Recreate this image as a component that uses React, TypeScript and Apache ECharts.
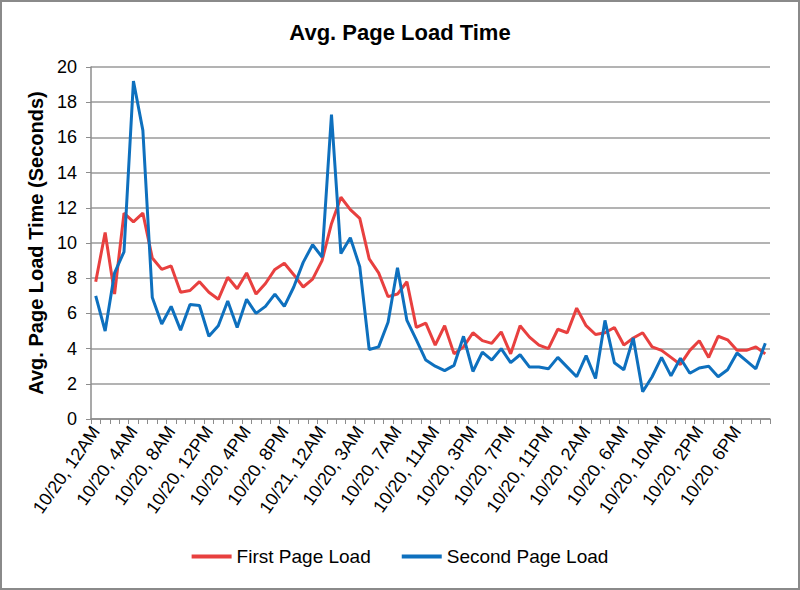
import React, { useEffect, useRef } from "react";
import * as echarts from "echarts";

const tickLabels = [
  "10/20, 12AM", "10/20, 4AM", "10/20, 8AM", "10/20, 12PM", "10/20, 4PM", "10/20, 8PM",
  "10/21, 12AM", "10/20, 3AM", "10/20, 7AM", "10/20, 11AM", "10/20, 3PM", "10/20, 7PM",
  "10/20, 11PM", "10/20, 2AM", "10/20, 6AM", "10/20, 10AM", "10/20, 2PM", "10/20, 6PM",
];

const firstPageLoad = [
  7.8, 10.6, 7.1, 11.7, 11.2, 11.7, 9.15, 8.5, 8.7, 7.2, 7.3, 7.8,
  7.2, 6.8, 8.05, 7.4, 8.3, 7.1, 7.7, 8.5, 8.85, 8.2, 7.5, 7.95,
  9.0, 11.1, 12.6, 11.9, 11.4, 9.1, 8.3, 6.95, 7.1, 7.8, 5.2, 5.45,
  4.2, 5.3, 3.7, 4.1, 4.9, 4.45, 4.3, 4.95, 3.7, 5.3, 4.65, 4.2,
  4.0, 5.1, 4.9, 6.3, 5.3, 4.8, 4.9, 5.2, 4.2, 4.6, 4.9, 4.1,
  3.9, 3.5, 3.1, 3.9, 4.45, 3.5, 4.7, 4.5, 3.9, 3.9, 4.1, 3.7,
];

const secondPageLoad = [
  7.0, 5.0, 8.3, 9.5, 19.2, 16.4, 6.9, 5.4, 6.4, 5.05, 6.5, 6.45,
  4.7, 5.3, 6.7, 5.2, 6.8, 6.0, 6.4, 7.1, 6.4, 7.5, 8.9, 9.9,
  9.2, 17.3, 9.4, 10.3, 8.65, 3.95, 4.1, 5.5, 8.6, 5.6, 4.5, 3.35,
  3.0, 2.75, 3.05, 4.7, 2.7, 3.8, 3.35, 4.0, 3.2, 3.65, 2.95, 2.95,
  2.85, 3.5, 2.95, 2.4, 3.6, 2.3, 5.6, 3.2, 2.8, 4.6, 1.55, 2.4,
  3.5, 2.45, 3.45, 2.6, 2.9, 3.0, 2.4, 2.8, 3.75, 3.3, 2.85, 4.3,
];

const categories = firstPageLoad.map((_, i) =>
  i % 4 === 0 ? tickLabels[i / 4] : `${tickLabels[Math.floor(i / 4)]} (+${i % 4})`
);

const FONT = "'Liberation Sans', Arial, sans-serif";

export default function App() {
  const ref = useRef<HTMLDivElement>(null);
  useEffect(() => {
    if (!ref.current) return;
    const chart = echarts.init(ref.current, undefined, { renderer: "svg" });
    chart.setOption({
      animation: false,
      backgroundColor: "#ffffff",
      textStyle: { fontFamily: FONT },
      title: {
        text: "Avg. Page Load Time",
        left: "center",
        top: 16,
        textStyle: { fontFamily: FONT, fontSize: 22, fontWeight: "bold", color: "#000" },
      },
      graphic: [
        {
          type: "rect",
          shape: { x: 1, y: 1, width: 798, height: 588 },
          style: { fill: "none", stroke: "#8a8a8a", lineWidth: 2 },
          silent: true,
        },
      ],
      legend: {
        bottom: 19,
        left: "center",
        itemGap: 31,
        itemWidth: 40,
        itemHeight: 4,
        icon: "rect",
        textStyle: { fontFamily: FONT, fontSize: 19, color: "#000" },
        data: ["First Page Load", "Second Page Load"],
      },
      grid: { left: 91, right: 30, top: 67, bottom: 171, containLabel: false },
      xAxis: {
        type: "category",
        data: categories,
        boundaryGap: true,
        axisLine: { show: true, lineStyle: { color: "#8c8c8c", width: 1.5 } },
        axisTick: { show: true, interval: 0, length: 5, lineStyle: { color: "#8c8c8c" } },
        axisLabel: {
          interval: 3,
          rotate: 55,
          margin: 9,
          fontSize: 18,
          fontFamily: FONT,
          color: "#000",
        },
        splitLine: { show: false },
      },
      yAxis: {
        type: "value",
        min: 0,
        max: 20,
        interval: 2,
        name: "Avg. Page Load Time (Seconds)",
        nameLocation: "middle",
        nameGap: 40,
        nameRotate: 90,
        nameTextStyle: { fontFamily: FONT, fontSize: 20, fontWeight: "bold", color: "#000" },
        axisLine: { show: true, lineStyle: { color: "#8c8c8c", width: 1.5 } },
        axisTick: { show: true, length: 5, lineStyle: { color: "#8c8c8c" } },
        axisLabel: { fontSize: 18, fontFamily: FONT, color: "#000", margin: 14 },
        splitLine: { show: true, lineStyle: { color: "#9a9a9a", width: 1.5 } },
      },
      series: [
        {
          name: "First Page Load",
          type: "line",
          data: firstPageLoad,
          symbol: "none",
          lineStyle: { color: "#E8403F", width: 3 },
          itemStyle: { color: "#E8403F" },
          z: 2,
        },
        {
          name: "Second Page Load",
          type: "line",
          data: secondPageLoad,
          symbol: "none",
          lineStyle: { color: "#0E70BE", width: 3 },
          itemStyle: { color: "#0E70BE" },
          z: 3,
        },
      ],
    });
    return () => chart.dispose();
  }, []);
  return (
    <div
      ref={ref}
      style={{ position: "fixed", left: 0, top: 0, width: 800, height: 590 }}
    />
  );
}
